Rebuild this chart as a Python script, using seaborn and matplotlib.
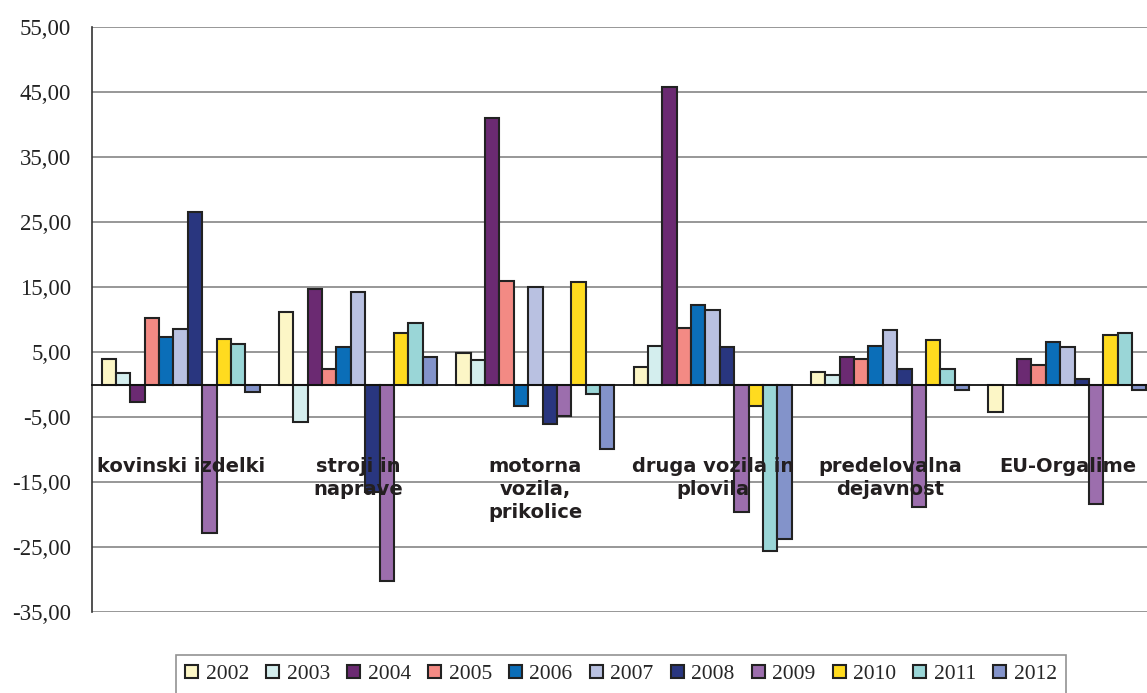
import numpy as np
import pandas as pd
import matplotlib
matplotlib.use("Agg")
import matplotlib.pyplot as plt
from matplotlib.ticker import FuncFormatter, FixedLocator
import seaborn as sns

sns.set_style("white")

categories = ["kovinski izdelki", "stroji in\nnaprave", "motorna\nvozila,\nprikolice",
              "druga vozila in\nplovila", "predelovalna\ndejavnost", "EU-Orgalime"]
years = ["2002", "2003", "2004", "2005", "2006", "2007", "2008", "2009", "2010", "2011", "2012"]

# one list per category, values per year 2002..2012 (None = no bar)
kovinski = [3.9, 1.8, -2.7, 10.3, 7.3, 8.5, 26.5, -22.8, 7.0, 6.3, -1.2]
stroji = [11.2, -5.7, 14.7, 2.4, 5.7, 14.2, -16.5, -30.2, 7.9, 9.4, 4.2]
motorna = [4.8, 3.7, 41.0, 16.0, -3.3, 15.0, -6.0, -4.8, 15.7, -1.5, -9.9]
druga = [2.7, 6.0, 45.8, 8.7, 12.3, 11.5, 5.8, -19.6, -3.3, -25.6, -23.8]
predelovalna = [1.9, 1.4, 4.2, 3.9, 6.0, 8.4, 2.4, -18.8, 6.9, 2.4, -0.8]
orgalime = [-4.2, None, 3.9, 3.0, 6.6, 5.7, 0.9, -18.4, 7.6, 7.9, -0.8]

colors = ["#FCF6C6", "#D4EEEE", "#6B2A72", "#F38A84", "#0B6EB8", "#B9C1E1",
          "#29367F", "#9C6EAD", "#FFDB1F", "#9AD6D7", "#8393CA"]

rows = []
for cat, vals in zip(categories, [kovinski, stroji, motorna, druga, predelovalna, orgalime]):
    for yr, v in zip(years, vals):
        if v is not None:
            rows.append({"kategorija": cat, "leto": yr, "vrednost": v})
df = pd.DataFrame(rows)

fig = plt.figure(figsize=(11.47, 6.93), dpi=100)
ax = fig.add_axes([92 / 1147, 1 - 612 / 693, (1156 - 92) / 1147, (612 - 27) / 693])

sns.barplot(data=df, x="kategorija", y="vrednost", hue="leto", order=categories,
            hue_order=years, palette=colors, width=0.89, errorbar=None,
            edgecolor="#222222", linewidth=1.5, saturation=1, ax=ax)

ax.set_ylim(-35, 55)
ax.set_xlim(-0.5, 5.5)
ax.set_yticks(np.arange(-35, 56, 10))
ax.yaxis.set_major_formatter(FuncFormatter(lambda v, p: f"{v:.2f}".replace(".", ",")))
ax.grid(axis="y", color="#7a7a7a", linewidth=1.1)
ax.set_axisbelow(True)
ax.set_xlabel("")
ax.set_ylabel("")

for s in ["top", "right"]:
    ax.spines[s].set_visible(False)
ax.spines["left"].set_color("#333333")
ax.spines["left"].set_linewidth(1.2)
ax.spines["bottom"].set_position(("data", 0))
ax.spines["bottom"].set_color("#111111")
ax.spines["bottom"].set_linewidth(1.3)
ax.spines["bottom"].set_zorder(3)

ax.set_xticks([])
ax.xaxis.set_minor_locator(FixedLocator(np.arange(0.5, 5.6, 1)))
ax.tick_params(axis="x", which="minor", length=5, width=1, color="#666666", direction="out")
ax.tick_params(axis="y", length=7, width=1.2, color="#666666", pad=8,
               labelsize=16.5, labelcolor="#222222")
for lab in ax.get_yticklabels():
    lab.set_fontfamily("Liberation Serif")

for i, cat in enumerate(categories):
    ax.text(i, -11.2, cat, ha="center", va="top", fontsize=14, fontweight="bold",
            color="#231F20", family="DejaVu Sans", linespacing=1.25, zorder=5)

handles, labels = ax.get_legend_handles_labels()
ax.get_legend().remove()
leg = fig.legend(handles, labels, loc="upper center", bbox_to_anchor=(621 / 1147, 1 - 655 / 693),
                 ncol=11, frameon=True, fancybox=False, edgecolor="#777777",
                 prop={"family": "Liberation Serif", "size": 15.5},
                 handlelength=0.6, handleheight=0.6, handletextpad=0.35,
                 columnspacing=0.8, borderpad=0.45, borderaxespad=0)
leg.get_frame().set_linewidth(1.2)

fig.savefig("out.png", dpi=100)
